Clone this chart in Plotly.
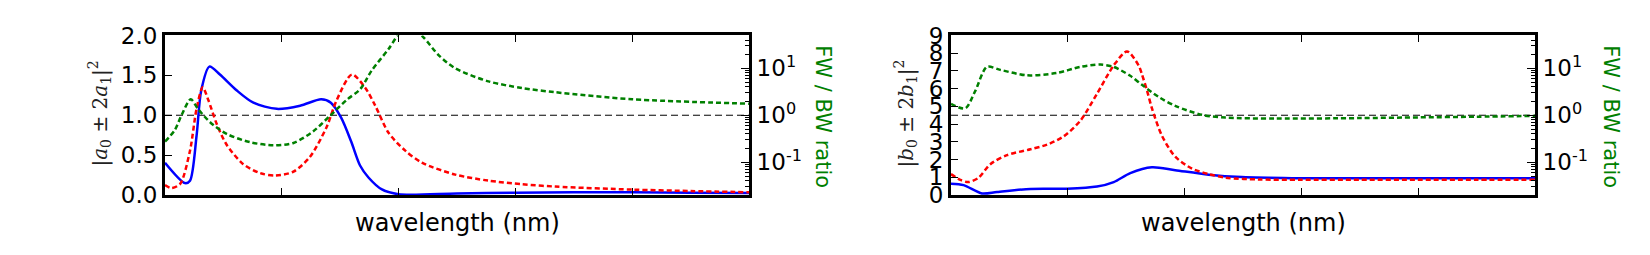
import plotly.graph_objects as go

# ---------------- data (x in arbitrary wavelength units, 0..5) ----------------
# left panel: |a0 ± 2a1|^2
blue_a_x = [0, 0.171, 0.214, 0.27, 0.31, 0.38, 0.47, 0.615, 0.757, 0.957, 1.157, 1.337, 1.42,
            1.508, 1.594, 1.67, 1.742, 1.857, 2.0, 2.5, 3.0, 3.5, 4.0, 4.5, 5.0]
blue_a_y = [0.405, 0.15, 0.18, 0.74, 1.31, 1.61, 1.51, 1.31, 1.157, 1.08, 1.12, 1.20, 1.157,
            0.97, 0.67, 0.37, 0.22, 0.07, 0.01, 0.02, 0.03, 0.035, 0.035, 0.03, 0.025]

red_a_x = [0, 0.057, 0.13, 0.214, 0.27, 0.323, 0.371, 0.443, 0.528, 0.67, 0.814, 0.942, 1.1,
           1.242, 1.385, 1.47, 1.6, 1.714, 1.8, 1.914, 2.057, 2.2, 2.485, 2.77, 3.057, 3.342,
           4.0, 4.5, 5.0]
red_a_y = [0.124, 0.087, 0.14, 0.556, 1.08, 1.35, 1.19, 0.89, 0.63, 0.387, 0.275, 0.244, 0.293,
           0.48, 0.856, 1.19, 1.51, 1.345, 1.12, 0.78, 0.556, 0.405, 0.256, 0.18, 0.135, 0.106,
           0.068, 0.05, 0.035]

green_a_x = [0, 0.086, 0.143, 0.22, 0.285, 0.386, 0.528, 0.728, 0.928, 1.1, 1.27, 1.414, 1.557,
             1.67, 1.77, 1.914, 2.0, 2.1, 2.213, 2.342, 2.485, 2.77, 3.057, 3.342, 4.0, 5.0]
green_a_y = [0.275, 0.493, 1.02, 2.19, 1.34, 0.71, 0.40, 0.267, 0.229, 0.257, 0.457, 0.98, 2.14,
             3.55, 9.0, 25.7, 52.5, 79.0, 45.7, 19.1, 10.0, 5.25, 3.80, 3.09, 2.19, 1.76]

# right panel: |b0 ± 2b1|^2
blue_b_x = [0, 0.108, 0.265, 0.394, 0.68, 0.993, 1.25, 1.393, 1.535, 1.72, 1.92, 2.206, 2.49,
            2.92, 3.5, 4.0, 4.5, 5.0]
blue_b_y = [0.64, 0.56, 0.09, 0.17, 0.34, 0.355, 0.476, 0.73, 1.24, 1.57, 1.40, 1.15, 1.01,
            0.95, 0.95, 0.95, 0.95, 0.95]

red_b_x = [0, 0.08, 0.15, 0.237, 0.337, 0.48, 0.68, 0.822, 0.965, 1.107, 1.25, 1.393, 1.507,
           1.607, 1.635, 1.678, 1.72, 1.806, 1.92, 2.063, 2.206, 2.35, 2.634, 3.0, 3.5, 4.0,
           4.5, 5.0]
red_b_y = [1.18, 0.85, 0.73, 0.98, 1.74, 2.25, 2.58, 2.84, 3.31, 4.19, 5.71, 7.31, 8.1,
           7.3, 6.8, 5.9, 4.9, 3.34, 2.16, 1.49, 1.18, 0.98, 0.88, 0.86, 0.86, 0.86,
           0.86, 0.86]

green_b_x = [0, 0.122, 0.208, 0.308, 0.422, 0.65, 0.907, 1.107, 1.28, 1.393, 1.535, 1.635,
             1.778, 1.92, 2.148, 2.35, 2.78, 3.5, 4.0, 4.5, 5.0]
green_b_y = [1.74, 1.40, 3.31, 10.7, 9.25, 7.08, 7.94, 10.7, 12.0, 10.7, 6.92, 4.44,
             2.45, 1.58, 1.02, 0.89, 0.85, 0.87, 0.90, 0.93, 0.97]

hline_left = 1.0
hline_right = 4.5
x_range = [0, 5]
left_range = [0, 2]
right_range = [0, 9]
log_range = [-1.699, 1.699]
log_major = [0.1, 1, 10]
log_major_text = ["10<sup>-1</sup>", "10<sup>0</sup>", "10<sup>1</sup>"]
log_minor = [m * 10 ** e for e in (-2, -1, 0, 1) for m in range(2, 10)]

# ---------------- styling ----------------
BLUE, RED, GREEN = "#0000ff", "#ff0000", "#008000"
FONT = "DejaVu Sans"
FS = 23
W, H = 1650, 255

def px_x(p):
    return p / W

def px_y(p):
    return 1 - p / H

dom_y = [px_y(202.7), px_y(25)]
dom_left = [px_x(165), px_x(749)]
dom_right = [px_x(951), px_x(1535)]

fig = go.Figure()
dash = "5px,3px"
sm = 0.8
fig.add_trace(go.Scatter(x=blue_a_x, y=blue_a_y, mode="lines", line=dict(color=BLUE, width=2.5, shape="spline", smoothing=sm), xaxis="x", yaxis="y"))
fig.add_trace(go.Scatter(x=red_a_x, y=red_a_y, mode="lines", line=dict(color=RED, width=2.5, dash=dash, shape="spline", smoothing=sm), xaxis="x", yaxis="y"))
fig.add_trace(go.Scatter(x=green_a_x, y=green_a_y, mode="lines", line=dict(color=GREEN, width=2.5, dash=dash, shape="spline", smoothing=sm), xaxis="x", yaxis="y2"))
fig.add_trace(go.Scatter(x=blue_b_x, y=blue_b_y, mode="lines", line=dict(color=BLUE, width=2.5, shape="spline", smoothing=sm), xaxis="x2", yaxis="y3"))
fig.add_trace(go.Scatter(x=red_b_x, y=red_b_y, mode="lines", line=dict(color=RED, width=2.5, dash=dash, shape="spline", smoothing=sm), xaxis="x2", yaxis="y3"))
fig.add_trace(go.Scatter(x=green_b_x, y=green_b_y, mode="lines", line=dict(color=GREEN, width=2.5, dash=dash, shape="spline", smoothing=sm), xaxis="x2", yaxis="y4"))

fig.add_shape(type="line", xref="x domain", x0=0, x1=1, yref="y", y0=hline_left, y1=hline_left,
              line=dict(color="black", width=1, dash="7px,4px"), layer="below")
fig.add_shape(type="line", xref="x2 domain", x0=0, x1=1, yref="y3", y0=hline_right, y1=hline_right,
              line=dict(color="black", width=1, dash="7px,4px"), layer="below")

common_x = dict(range=x_range, dtick=1, tick0=0, showticklabels=False, ticks="inside", ticklen=7,
                tickwidth=1, tickcolor="black", showline=True, linewidth=3, linecolor="black",
                mirror="ticks", showgrid=False, zeroline=False)
common_lin = dict(ticks="inside", ticklen=7, tickwidth=1, tickcolor="black", showline=True,
                  linewidth=3, linecolor="black", mirror=True, showgrid=False, zeroline=False,
                  tickfont=dict(family=FONT, size=FS, color="black"))
common_log = dict(type="log", range=log_range, side="right", tickmode="array", tickvals=log_major,
                  ticktext=log_major_text, ticks="inside", ticklen=8, tickwidth=1, tickcolor="black",
                  showline=True, linewidth=3, linecolor="black", showgrid=False, zeroline=False,
                  tickfont=dict(family=FONT, size=FS, color="black"),
                  minor=dict(tickmode="array", tickvals=log_minor, ticks="inside", ticklen=4,
                             tickwidth=1, tickcolor="black", showgrid=False))

fig.update_layout(
    width=W, height=H, margin=dict(l=0, r=0, t=0, b=0),
    paper_bgcolor="white", plot_bgcolor="white", showlegend=False,
    font=dict(family=FONT, size=FS, color="black"),
    xaxis=dict(domain=dom_left, anchor="y", **common_x),
    yaxis=dict(domain=dom_y, anchor="x", range=left_range, dtick=0.5, tick0=0, tickformat=".1f", **common_lin),
    yaxis2=dict(overlaying="y", anchor="x", **common_log),
    xaxis2=dict(domain=dom_right, anchor="y3", **common_x),
    yaxis3=dict(domain=dom_y, anchor="x2", range=right_range, dtick=1, tick0=0, **common_lin),
    yaxis4=dict(overlaying="y3", anchor="x2", **common_log),
)

ann = []
for cx in (457, 1243):
    ann.append(dict(text="wavelength (nm)", x=px_x(cx), y=px_y(234), xref="paper", yref="paper",
                    showarrow=False, font=dict(family=FONT, size=24, color="black"),
                    xanchor="center", yanchor="middle"))
for cx in (823, 1611):
    ann.append(dict(text="FW / BW ratio", x=px_x(cx), y=px_y(115), xref="paper", yref="paper",
                    showarrow=False, textangle=90, font=dict(family=FONT, size=21, color=GREEN),
                    xanchor="center", yanchor="middle"))
ann.append(dict(text="|<i>a</i><sub>0</sub> ± 2<i>a</i><sub>1</sub>|<sup>2</sup>", x=px_x(100), y=px_y(112),
                xref="paper", yref="paper", showarrow=False, textangle=-90,
                font=dict(family="DejaVu Serif", size=20, color="#222"), xanchor="center", yanchor="middle"))
ann.append(dict(text="|<i>b</i><sub>0</sub> ± 2<i>b</i><sub>1</sub>|<sup>2</sup>", x=px_x(906), y=px_y(112),
                xref="paper", yref="paper", showarrow=False, textangle=-90,
                font=dict(family="DejaVu Serif", size=20, color="#222"), xanchor="center", yanchor="middle"))
fig.update_layout(annotations=ann)

fig.write_html("out.html")
